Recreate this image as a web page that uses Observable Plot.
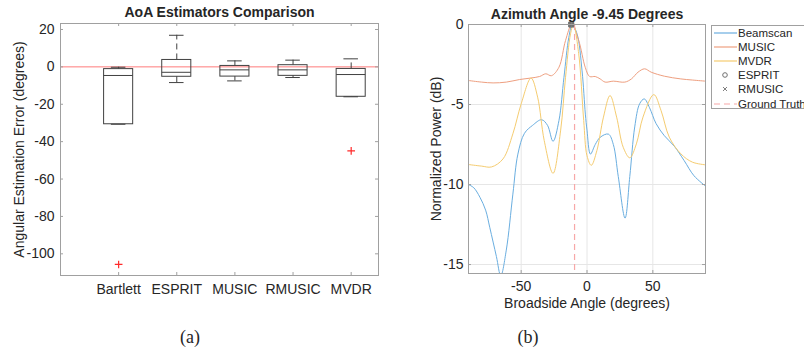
<!DOCTYPE html>
<html><head><meta charset="utf-8">
<script src="https://cdn.jsdelivr.net/npm/d3@7"></script>
<script src="https://cdn.jsdelivr.net/npm/@observablehq/plot@0.6"></script>
<style>
body{margin:0;width:804px;height:354px;overflow:hidden;background:#fff;position:relative;font-family:"Liberation Sans",Arial,Helvetica,sans-serif;color:#262626}
#a{position:absolute;left:0;top:0}
#b{position:absolute;left:400px;top:0}
#legend{position:absolute;left:711px;top:25px;width:110px;height:84px;border:1px solid #a0a0a0;background:#fff;box-sizing:border-box}
.row{position:absolute;left:0;height:14px;width:110px;font-size:11.5px;line-height:14px;white-space:nowrap}
.row svg{position:absolute;left:1px;top:0}
.row span{position:absolute;left:26px;top:0}
.sub{position:absolute;top:327px;font-family:"Liberation Serif","Times New Roman",serif;font-size:18px;transform:translateX(-50%)}
</style></head><body>
<div id="a"></div>
<div id="b"></div>
<div id="legend"></div>
<div class="sub" style="left:190px">(a)</div>
<div class="sub" style="left:528px">(b)</div>
<script>
// ---------- Panel (a) data ----------
const categories = ["Bartlett", "ESPRIT", "MUSIC", "RMUSIC", "MVDR"];
const whiskerHigh = [-0.2, 16.9, 3.2, 3.6, 4.3];
const quartile3 = [-1.2, 3.7, 0.5, 0.9, -1.1];
const medians = [-4.6, -2.9, -1.6, -1.6, -4.1];
const quartile1 = [-30.7, -5.3, -5.2, -4.8, -16.0];
const whiskerLow = [-30.7, -8.4, -7.5, -5.7, -16.0];
const outlierCategory = ["Bartlett", "MVDR"];
const outlierValue = [-105.7, -44.9];
const yTicksA = [-100, -80, -60, -40, -20, 0, 20];

// ---------- Panel (b) data ----------
const beamscanAngle = [-90,-86,-81.3,-77,-73.8,-68.8,-65.5,-61.3,-56.3,-52.5,-47.5,-41.3,-34.5,-30,-25.8,-21.3,-17.5,-13.8,-11.2,-7.5,-3.75,-1.25,0,2.6,6.25,10,16.25,20,23.75,28.9,32.5,36.25,40,43.5,47.5,52.5,58.75,66.25,73.75,81.25,90];
const beamscanPower = [-10,-10.2,-10.8,-11.6,-12.7,-14.5,-15.7,-14.1,-10.6,-8.1,-6.8,-6.3,-5.95,-6.3,-7.3,-6,-3.3,-0.8,0,-0.6,-2.9,-5.6,-6.6,-8.1,-7.5,-7.05,-6.85,-7.5,-9.5,-12.1,-9.5,-6.4,-4.95,-4.65,-5.2,-6.2,-6.95,-7.6,-8.5,-9.45,-10.1];
const musicAngle = [-90,-80,-71.3,-61.3,-51.3,-43,-36,-31.3,-27,-21.3,-16.3,-11.5,-6.3,-1.25,2,6.25,10,13.75,20,28.75,33.75,38.75,43.75,48.75,58.75,71.25,80,90];
const musicPower = [-3.5,-3.6,-3.65,-3.6,-3.44,-3.35,-3.25,-3.08,-3.2,-2.67,-1,0,-1,-2.7,-3.25,-3.25,-3.4,-3.6,-3.54,-3.6,-3.4,-2.98,-2.77,-2.98,-3.23,-3.4,-3.47,-3.54];
const mvdrAngle = [-90,-80,-72.5,-63.8,-56.3,-50,-42.5,-37.5,-32.5,-25.8,-20,-16.3,-12.5,-10.3,-6.3,-2.5,0,3.25,7.5,12.5,17.5,22.5,27.5,32.5,37.5,42.5,50.75,56.25,62.5,71.25,80,90];
const mvdrPower = [-8.75,-8.85,-8.9,-8.4,-6.83,-4.96,-3.35,-4.54,-7.25,-9.3,-6.6,-3.3,-0.58,0,-1.83,-6,-8.2,-8.8,-7.88,-5.79,-4.44,-5.79,-7.67,-8.33,-7.46,-5.79,-4.38,-5.38,-7.04,-8.08,-8.6,-8.77];
const espritEstimate = [-12.0, 0];
const rmusicEstimate = [-12.0, 0];
const groundTruth = -9.45;
const xTicksB = [-50, 0, 50];
const yTicksB = [-15, -10, -5, 0];
const legendNames = ["Beamscan", "MUSIC", "MVDR", "ESPRIT", "RMUSIC", "Ground Truth"];

// ---------- styles ----------
const font = '"Liberation Sans", Arial, Helvetica, sans-serif';
const frameColor = "#a0a0a0";
const boxColor = "#404040";
const colors = {Beamscan: "#6aaee0", MUSIC: "#ee9f80", MVDR: "#f5cc70", ESPRIT: "#707070", RMUSIC: "#707070", "Ground Truth": "#f7a8a8"};
const fmt = d => String(d);

// ---------- Panel (a) ----------
const boxes = categories.map((c, i) => ({x: i + 1, lo: whiskerLow[i], q1: quartile1[i], med: medians[i], q3: quartile3[i], hi: whiskerHigh[i]}));
const outliers = outlierCategory.map((c, i) => ({x: categories.indexOf(c) + 1, y: outlierValue[i]}));
const catIdx = categories.map((c, i) => i + 1);
const xDomA = [0, 5.47], yDomA = [-111.6, 23.2];
const WA = 400, HA = 300, mA = {l: 60, r: 22, t: 23, b: 25};
const pxXA = (xDomA[1] - xDomA[0]) / (WA - mA.l - mA.r);
const pxYA = (yDomA[1] - yDomA[0]) / (HA - mA.t - mA.b);
const tl = 3;

const chartA = Plot.plot({
  width: WA, height: HA,
  marginLeft: mA.l, marginRight: mA.r, marginTop: mA.t, marginBottom: mA.b,
  style: {fontFamily: font, fontSize: "14px", color: "#262626", background: "transparent", overflow: "visible"},
  x: {domain: xDomA},
  y: {domain: yDomA},
  marks: [
    Plot.ruleY([0], {stroke: "#ff7a7a", strokeWidth: 1}),
    Plot.ruleX(boxes, {x: "x", y1: "q3", y2: "hi", stroke: boxColor, strokeDasharray: "6,4"}),
    Plot.ruleX(boxes, {x: "x", y1: "lo", y2: "q1", stroke: boxColor, strokeDasharray: "6,4"}),
    Plot.ruleY(boxes, {y: "hi", x1: d => d.x - 0.125, x2: d => d.x + 0.125, stroke: boxColor}),
    Plot.ruleY(boxes, {y: "lo", x1: d => d.x - 0.125, x2: d => d.x + 0.125, stroke: boxColor}),
    Plot.rect(boxes, {x1: d => d.x - 0.25, x2: d => d.x + 0.25, y1: "q1", y2: "q3", stroke: boxColor, fill: "none"}),
    Plot.ruleY(boxes, {y: "med", x1: d => d.x - 0.25, x2: d => d.x + 0.25, stroke: boxColor}),
    Plot.dot(outliers, {x: "x", y: "y", symbol: "plus", r: 2.6, stroke: "#ff2a2a", strokeWidth: 1.2}),
    // inward ticks
    Plot.ruleY(yTicksA, {y: d => d, x1: xDomA[0], x2: xDomA[0] + tl * pxXA, stroke: frameColor}),
    Plot.ruleY(yTicksA, {y: d => d, x1: xDomA[1], x2: xDomA[1] - tl * pxXA, stroke: frameColor}),
    Plot.ruleX(catIdx, {x: d => d, y1: yDomA[0], y2: yDomA[0] + tl * pxYA, stroke: frameColor}),
    Plot.ruleX(catIdx, {x: d => d, y1: yDomA[1], y2: yDomA[1] - tl * pxYA, stroke: frameColor}),
    Plot.frame({stroke: frameColor}),
    Plot.axisX(catIdx, {tickFormat: d => categories[d - 1], tickSize: 0, tickPadding: 9, fontSize: 14, label: null}),
    Plot.axisY(yTicksA, {tickSize: 0, tickPadding: 6, fontSize: 14, label: null, tickFormat: fmt}),
    Plot.text(["AoA Estimators Comparison"], {frameAnchor: "top", dy: -11, lineAnchor: "middle", textAnchor: "middle", fontWeight: "bold", fontSize: 14}),
    Plot.text(["Angular Estimation Error (degrees)"], {frameAnchor: "left", dx: -41, rotate: -90, textAnchor: "middle", lineAnchor: "middle", fontSize: 14})
  ]
});
document.getElementById("a").append(chartA);

// ---------- Panel (b) ----------
const toRows = (ang, val) => ang.map((a, i) => ({x: a, y: val[i]}));
const xDomB = [-90, 90], yDomB = [-15.56, 0];
const WB = 404, HB = 300, mB = {l: 68, r: 99, t: 24, b: 27};
const pxXB = (xDomB[1] - xDomB[0]) / (WB - mB.l - mB.r);
const pxYB = (yDomB[1] - yDomB[0]) / (HB - mB.t - mB.b);

const chartB = Plot.plot({
  width: WB, height: HB,
  marginLeft: mB.l, marginRight: mB.r, marginTop: mB.t, marginBottom: mB.b,
  style: {fontFamily: font, fontSize: "14px", color: "#262626", background: "transparent", overflow: "visible"},
  x: {domain: xDomB},
  y: {domain: yDomB},
  marks: [
    Plot.ruleX(xTicksB, {stroke: "#e6e6e6"}),
    Plot.ruleY(yTicksB, {stroke: "#e6e6e6"}),
    Plot.line(toRows(beamscanAngle, beamscanPower), {x: "x", y: "y", stroke: colors.Beamscan, strokeWidth: 1, curve: "catmull-rom", clip: true}),
    Plot.line(toRows(musicAngle, musicPower), {x: "x", y: "y", stroke: colors.MUSIC, strokeWidth: 1, curve: "catmull-rom", clip: true}),
    Plot.line(toRows(mvdrAngle, mvdrPower), {x: "x", y: "y", stroke: colors.MVDR, strokeWidth: 1, curve: "catmull-rom", clip: true}),
    Plot.ruleX([groundTruth], {stroke: colors["Ground Truth"], strokeWidth: 1.2, strokeDasharray: "6,4"}),
    Plot.dot([espritEstimate], {x: d => d[0], y: d => d[1], symbol: "circle", r: 2.5, stroke: colors.ESPRIT, fill: "none"}),
    Plot.dot([rmusicEstimate], {x: d => d[0], y: d => d[1], symbol: "times", r: 2.5, stroke: colors.RMUSIC}),
    // inward ticks
    Plot.ruleY(yTicksB, {y: d => d, x1: xDomB[0], x2: xDomB[0] + tl * pxXB, stroke: frameColor}),
    Plot.ruleY(yTicksB, {y: d => d, x1: xDomB[1], x2: xDomB[1] - tl * pxXB, stroke: frameColor}),
    Plot.ruleX(xTicksB, {x: d => d, y1: yDomB[0], y2: yDomB[0] + tl * pxYB, stroke: frameColor}),
    Plot.ruleX(xTicksB, {x: d => d, y1: yDomB[1], y2: yDomB[1] - tl * pxYB, stroke: frameColor}),
    Plot.frame({stroke: frameColor}),
    Plot.axisX(xTicksB, {tickSize: 0, tickPadding: 8, fontSize: 14, label: null, tickFormat: fmt}),
    Plot.axisY(yTicksB, {tickSize: 0, tickPadding: 5, fontSize: 14, label: null, tickFormat: fmt}),
    Plot.text(["Azimuth Angle -9.45 Degrees"], {frameAnchor: "top", dy: -10, lineAnchor: "middle", textAnchor: "middle", fontWeight: "bold", fontSize: 14}),
    Plot.text(["Normalized Power (dB)"], {frameAnchor: "left", dx: -32, rotate: -90, textAnchor: "middle", lineAnchor: "middle", fontSize: 14}),
    Plot.text(["Broadside Angle (degrees)"], {frameAnchor: "bottom", dy: 30, textAnchor: "middle", lineAnchor: "middle", fontSize: 14})
  ]
});
document.getElementById("b").append(chartB);

// ---------- Legend ----------
const legend = document.getElementById("legend");
const ns = "http://www.w3.org/2000/svg";
legendNames.forEach((name, i) => {
  const row = document.createElement("div");
  row.className = "row";
  row.style.top = (0 + i * 14.1) + "px";
  const svg = document.createElementNS(ns, "svg");
  svg.setAttribute("width", 24); svg.setAttribute("height", 14);
  const c = colors[name];
  if (name === "ESPRIT") {
    const e = document.createElementNS(ns, "circle");
    e.setAttribute("cx", 12); e.setAttribute("cy", 7); e.setAttribute("r", 2.3);
    e.setAttribute("fill", "none"); e.setAttribute("stroke", c);
    svg.append(e);
  } else if (name === "RMUSIC") {
    const p = document.createElementNS(ns, "path");
    p.setAttribute("d", "M10,5L14,9M14,5L10,9");
    p.setAttribute("stroke", c); p.setAttribute("stroke-width", 0.9);
    svg.append(p);
  } else {
    const l = document.createElementNS(ns, "line");
    l.setAttribute("x1", 1); l.setAttribute("x2", 24); l.setAttribute("y1", 7); l.setAttribute("y2", 7);
    l.setAttribute("stroke", c); l.setAttribute("stroke-width", 1.2);
    if (name === "Ground Truth") l.setAttribute("stroke-dasharray", "6,4");
    svg.append(l);
  }
  const span = document.createElement("span");
  span.textContent = name;
  row.append(svg, span);
  legend.append(row);
});
</script>
</body></html>
